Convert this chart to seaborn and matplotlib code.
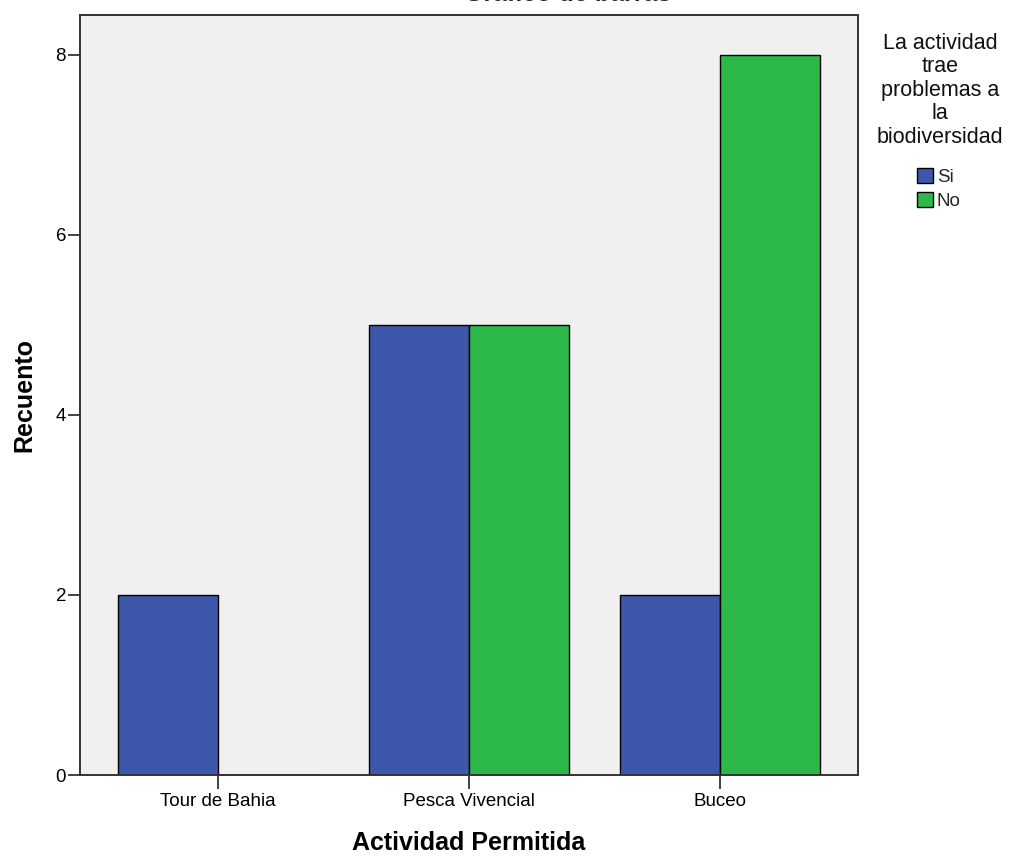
import numpy as np
import pandas as pd
import matplotlib
matplotlib.use("Agg")
import matplotlib.pyplot as plt
import seaborn as sns

# datos
actividades = ["Tour de Bahia", "Pesca Vivencial", "Buceo"]
respuestas = ["Si", "No"]
recuento_si = [2, 5, 2]
recuento_no = [0, 5, 8]

df = pd.DataFrame({
    "Actividad": actividades * 2,
    "Respuesta": ["Si"] * 3 + ["No"] * 3,
    "Recuento": recuento_si + recuento_no,
})

sns.set_style("white")
plt.rcParams['font.family'] = ['Liberation Sans', 'DejaVu Sans']

colores = {"Si": "#3D57AA", "No": "#2DB84A"}

fig = plt.figure(figsize=(10.12, 8.57), dpi=100)
ax = fig.add_axes([80/1012, 82/857, 778/1012, 760/857])
ax.set_facecolor("#F0F0F0")

sns.barplot(data=df, x="Actividad", y="Recuento", hue="Respuesta",
            hue_order=respuestas, order=actividades, palette=colores,
            width=0.8, edgecolor="black", linewidth=1.0, saturation=1, ax=ax)

ax.set_xlim(-0.55, 2.55)
ax.set_ylim(0, 8.44)
ax.set_yticks([0, 2, 4, 6, 8])
ax.tick_params(axis="both", bottom=True, left=True, direction="out", width=1.2,
               colors="#222222", labelsize=13.5, labelcolor="black")
ax.tick_params(axis="y", length=9, pad=1)
ax.tick_params(axis="x", length=10, pad=3)

for s in ax.spines.values():
    s.set_color("#333333")
    s.set_linewidth(1.4)

ax.set_xlabel("Actividad Permitida", fontsize=18, fontweight="bold", labelpad=15,
              color="black")
ax.set_ylabel("Recuento", fontsize=18, fontweight="bold", labelpad=14, color="black")

# titulo cortado arriba como en la imagen original
fig.text(568/1012, 1 - 1/857, "Gráfico de barras", ha="center", va="baseline",
         fontsize=18, fontweight="bold")

ax.legend_.remove()
fig.text(940/1012, 1 - 33/857, "La actividad\ntrae\nproblemas a\nla\nbiodiversidad",
         ha="center", va="top", multialignment="center", fontsize=15.5,
         linespacing=1.15, color="#111111")
handles = [plt.Rectangle((0, 0), 1, 1, facecolor=colores[r], edgecolor="black", linewidth=1)
           for r in respuestas]
leg = fig.legend(handles, respuestas, loc="upper left",
                 bbox_to_anchor=(917/1012, 1 - 168/857),
                 frameon=False, fontsize=13.5,
                 handlelength=0.85, handleheight=0.85, handletextpad=0.2,
                 labelspacing=0.3, borderpad=0, borderaxespad=0)

fig.savefig("out.png", dpi=100)
